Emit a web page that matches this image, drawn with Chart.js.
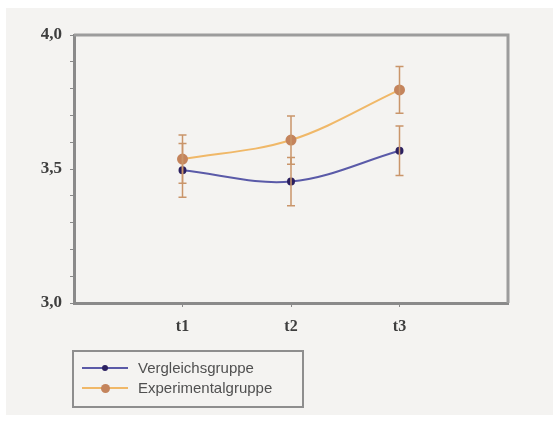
<!DOCTYPE html>
<html><head><meta charset="utf-8">
<script src="https://cdn.jsdelivr.net/npm/chart.js@4/dist/chart.umd.min.js"></script>
<style>
html,body{margin:0;padding:0;background:#fff;}
#wrap{position:absolute;left:6px;top:8px;width:547px;height:407px;background:#f4f3f1;}
#cv{position:absolute;left:0;top:0;}
#legend{position:absolute;left:72px;top:350px;width:232px;height:58px;border:2px solid #8e8e8e;box-sizing:border-box;font-family:"Liberation Sans",Arial,sans-serif;font-size:15px;color:#505050;}
.row{position:absolute;left:0;height:18px;width:228px;}
.ln{position:absolute;left:8px;top:8px;width:46px;height:2px;}
.dot{position:absolute;border-radius:50%;}
.lbl{position:absolute;left:64px;top:0;line-height:18px;}
</style></head>
<body>
<div id="wrap"></div>
<canvas id="cv" width="553" height="425"></canvas>
<div id="legend"></div>
<script>
const categories = ['t1','t2','t3'];
const seriesNames = ['Vergleichsgruppe','Experimentalgruppe'];
const vergleich = [3.495, 3.453, 3.568];
const experimental = [3.537, 3.608, 3.795];
const errVergleich = [0.10, 0.09, 0.092];
const errExperimental = [0.09, 0.09, 0.087];
const yTickLabels = {'3.0':'3,0','3.5':'3,5','4.0':'4,0'};

const colors = {
  vLine:'#5a5aa8', vPoint:'#2b2060',
  eLine:'#f0b868', ePoint:'#c4845c',
  err:'#c9956a', axis:'#8a8a8a', frame:'#9c9c9c', text:'#3e3e3e'
};

const toPts = arr => arr.map((v,i)=>({x:i+1,y:v}));

const errorBars = {
  id:'errorBars',
  afterDatasetsDraw(chart){
    const {ctx, scales:{x,y}} = chart;
    const sets = [[vergleich,errVergleich],[experimental,errExperimental]];
    ctx.save();
    ctx.strokeStyle = colors.err;
    ctx.lineWidth = 1.5;
    sets.forEach(([vals,errs])=>{
      vals.forEach((v,i)=>{
        const px = x.getPixelForValue(i+1);
        const top = y.getPixelForValue(v+errs[i]);
        const bot = y.getPixelForValue(v-errs[i]);
        ctx.beginPath();
        ctx.moveTo(px,top); ctx.lineTo(px,bot);
        ctx.moveTo(px-4,top); ctx.lineTo(px+4,top);
        ctx.moveTo(px-4,bot); ctx.lineTo(px+4,bot);
        ctx.stroke();
      });
    });
    ctx.restore();
  }
};

const frame = {
  id:'frame',
  beforeDatasetsDraw(chart){
    const {ctx, chartArea:a} = chart;
    ctx.save();
    ctx.strokeStyle = colors.frame;
    ctx.lineWidth = 3;
    ctx.beginPath();
    ctx.moveTo(a.left,a.top); ctx.lineTo(a.right,a.top); ctx.lineTo(a.right,a.bottom);
    ctx.stroke();
    ctx.restore();
  }
};

new Chart(document.getElementById('cv'),{
  type:'line',
  data:{datasets:[
    {label:seriesNames[0],data:toPts(vergleich),borderColor:colors.vLine,borderWidth:2,
     pointRadius:3,pointBackgroundColor:colors.vPoint,pointBorderColor:colors.vPoint,tension:0.35},
    {label:seriesNames[1],data:toPts(experimental),borderColor:colors.eLine,borderWidth:2,
     pointRadius:4.5,pointBackgroundColor:colors.ePoint,pointBorderColor:colors.ePoint,tension:0.35}
  ]},
  options:{
    responsive:false,animation:false,
    layout:{padding:{left:0,right:45,top:35,bottom:0}},
    plugins:{legend:{display:false},tooltip:{enabled:false}},
    scales:{
      x:{type:'linear',min:0,max:4,
        afterBuildTicks(s){s.ticks=categories.map((c,i)=>({value:i+1}));},
        afterFit(s){s.height=122;},
        ticks:{callback:(v)=>categories[v-1]||'',color:colors.text,padding:10,
          font:{family:'"Liberation Serif","DejaVu Serif",serif',size:16,weight:'bold'}},
        grid:{drawOnChartArea:false,drawTicks:true,tickLength:4,color:colors.axis},
        border:{display:true,color:colors.axis,width:3}
      },
      y:{min:3.0,max:4.0,
        afterBuildTicks(s){const t=[];for(let i=0;i<=10;i++)t.push({value:+(3+i/10).toFixed(1)});s.ticks=t;},
        afterFit(s){s.width=74;},
        ticks:{autoSkip:false,callback:(v)=>yTickLabels[Number(v).toFixed(1)]||'',color:colors.text,padding:8,
          font:{family:'"Liberation Serif","DejaVu Serif",serif',size:17,weight:'bold'}},
        grid:{drawOnChartArea:false,drawTicks:true,tickLength:4,color:colors.axis},
        border:{display:true,color:colors.axis,width:3}
      }
    }
  },
  plugins:[frame,errorBars]
});

// HTML legend
const lg = document.getElementById('legend');
[[seriesNames[0],colors.vLine,colors.vPoint,3],[seriesNames[1],colors.eLine,colors.ePoint,4.5]].forEach((d,i)=>{
  const row=document.createElement('div');row.className='row';row.style.top=(7+i*20)+'px';
  const ln=document.createElement('div');ln.className='ln';ln.style.background=d[1];row.appendChild(ln);
  const dot=document.createElement('div');dot.className='dot';
  const r=d[3];dot.style.width=dot.style.height=(2*r)+'px';dot.style.left=(31-r)+'px';dot.style.top=(9-r)+'px';dot.style.background=d[2];
  row.appendChild(dot);
  const t=document.createElement('div');t.className='lbl';t.textContent=d[0];row.appendChild(t);
  lg.appendChild(row);
});
</script>
</body></html>
